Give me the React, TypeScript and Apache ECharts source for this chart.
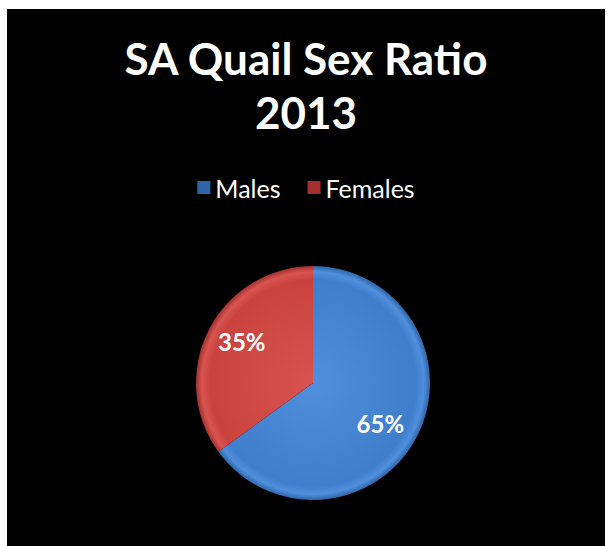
import React, { useEffect, useRef } from "react";
import * as echarts from "echarts";

const categories = ["Males", "Females"];
const values = [65, 35];
const titleLines = ["SA Quail Sex Ratio", "2013"];

const baseColors = ["#3f7ecb", "#c9423e"];
const lightColors = ["#4f8fdc", "#d85450"];
const darkColors = ["#2f65a8", "#a3302d"];
const labelNudges = [
  [-8, 2],
  [4, -3],
];

export default function App() {
  const ref = useRef<HTMLDivElement>(null);
  useEffect(() => {
    document.body.style.margin = "0";
    const chart = echarts.init(ref.current!, undefined, { renderer: "svg" });
    const cx = 306;
    const cy = 374;
    const r = 117;
    const pieData = categories.map((name, i) => ({
      name,
      value: values[i],
      itemStyle: {
        color: new echarts.graphic.RadialGradient(
          cx,
          cy,
          r,
          [
            { offset: 0, color: lightColors[i] },
            { offset: 0.88, color: baseColors[i] },
            { offset: 0.95, color: lightColors[i] },
            { offset: 1, color: darkColors[i] },
          ],
          true
        ),
      },
    }));
    const labelData = categories.map((name, i) => ({
      name,
      value: values[i],
      itemStyle: { color: "rgba(0,0,0,0)" },
      label: { offset: labelNudges[i] },
    }));
    chart.setOption({
      animation: false,
      backgroundColor: "#000000",
      title: {
        text: titleLines.join("\n"),
        left: "center",
        top: 17,
        textStyle: {
          color: "#ffffff",
          fontFamily: "Lato",
          fontWeight: "bold",
          fontSize: 44,
          lineHeight: 54,
        },
      },
      legend: {
        data: categories,
        top: 161,
        left: "center",
        icon: "rect",
        itemWidth: 13,
        itemHeight: 13,
        itemGap: 27,
        textStyle: { color: "#ffffff", fontFamily: "Lato", fontSize: 25 },
      },
      series: [
        {
          type: "pie",
          center: [cx, cy],
          radius: [0, r],
          startAngle: 90,
          clockwise: true,
          label: { show: false },
          labelLine: { show: false },
          silent: true,
          data: pieData,
        },
        {
          type: "pie",
          center: [cx, cy],
          radius: [46, r],
          startAngle: 90,
          clockwise: true,
          silent: true,
          label: {
            show: true,
            position: "inside",
            formatter: "{d}%",
            color: "#ffffff",
            fontFamily: "Lato",
            fontWeight: "bold",
            fontSize: 24,
          },
          labelLine: { show: false },
          data: labelData,
        },
      ],
    });
    return () => chart.dispose();
  }, []);
  return (
    <div style={{ position: "relative", width: 609, height: 546, background: "#ffffff" }}>
      <div
        ref={ref}
        style={{ position: "absolute", left: 7, top: 9, width: 598, height: 537 }}
      />
    </div>
  );
}
